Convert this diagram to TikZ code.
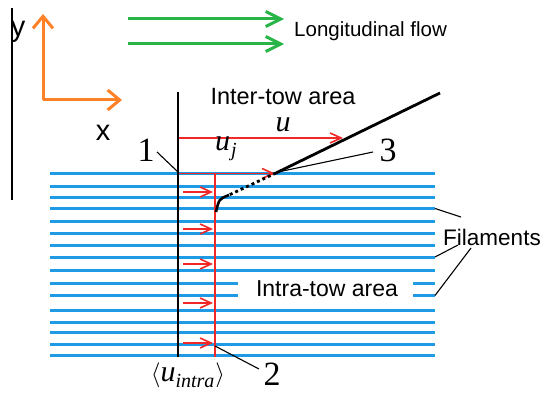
\documentclass[tikz,border=0pt]{standalone}
\usepackage{fontspec}
\setmainfont{Liberation Sans}
\newfontfamily\serifu{Liberation Serif}
\usetikzlibrary{arrows.meta}
\definecolor{fil}{RGB}{30,155,228}
\definecolor{flowred}{RGB}{240,40,40}
\definecolor{flowgreen}{RGB}{40,180,70}
\definecolor{axorange}{RGB}{255,130,40}
\tikzset{
  filament/.style={draw=fil,line width=3pt},
  redarrow/.style={draw=flowred,line width=1.6pt,-{Straight Barb[length=11pt,width=10pt,line width=1.6pt]}},
  greenarrow/.style={draw=flowgreen,line width=3pt,-{Straight Barb[length=15pt,width=15pt,line width=3pt]}},
  axisarrow/.style={draw=axorange,line width=3pt,-{Straight Barb[length=12pt,width=20pt,line width=3pt]}},
  leader/.style={draw=black,line width=1.1pt},
  lbl/.style={inner sep=0pt,anchor=center},
}
\begin{document}
\begin{tikzpicture}[x=1pt,y=-1pt]
\useasboundingbox (0,0) rectangle (543,393);
\fill[white] (0,0) rectangle (543,393);
% left thin line
\draw[line width=1.3pt] (12,8) -- (12,200);
% axes
\coordinate (o) at (43,100);
\coordinate (ytip) at (43,14);
\coordinate (xtip) at (122,100);
\draw[axisarrow] (o) -- (ytip);
\draw[axisarrow] (o) -- (xtip);
\node[lbl] (ylab) at (18,32) {\fontsize{29}{30}\selectfont y};
\node[lbl] (xlab) at (103,133) {\fontsize{29}{30}\selectfont x};
% green flow
\coordinate (g1a) at (128,19); \coordinate (g1b) at (284,19);
\coordinate (g2a) at (128,44); \coordinate (g2b) at (284,44);
\draw[greenarrow] (g1a) -- (g1b);
\draw[greenarrow] (g2a) -- (g2b);
\node[lbl,anchor=west] (lf) at (294,31) {\fontsize{20.5}{22}\selectfont Longitudinal flow};
% filaments
\foreach \y in {173.7,186,197.5,208.5,221,233,245,257,270.5,310,322,332,344,355.5}
  \draw[filament] (50,\y) -- (435,\y);
\draw[filament] (50,283) -- (238,283);
\draw[filament] (413,283) -- (435,283);
\draw[filament] (50,295.5) -- (238,295.5);
\draw[filament] (413,295.5) -- (435,295.5);
% texts
\node[lbl] (inter) at (283,97) {\fontsize{23.5}{24}\selectfont Inter-tow area};
\node[lbl] (intra) at (327,289) {\fontsize{23}{24}\selectfont Intra-tow area};
\node[lbl] (fil) at (492,237) {\fontsize{22.5}{24}\selectfont Filaments};
% black vertical
\coordinate (b1) at (178,92); \coordinate (b2) at (178,357);
\draw[line width=2.6pt] (b1) -- (b2);
% red vertical
\coordinate (r1) at (215,173); \coordinate (r2) at (215,357);
\draw[draw=flowred,line width=2.6pt] (r1) -- (r2);
% u arrow
\coordinate (ua) at (179,138); \coordinate (ub) at (343,138);
\draw[redarrow] (ua) -- (ub);
% uj arrow
\coordinate (uja) at (179,173.5); \coordinate (ujb) at (275,173.5);
\draw[redarrow] (uja) -- (ujb);
% small red arrows
\foreach \y in {192,229,264,303,343}
  \draw[redarrow] (183,\y) -- (213,\y);
% boundary line
\coordinate (p3) at (276,173);
\coordinate (ptop) at (440,93);
\coordinate (pd) at (229,195);
\coordinate (pr) at (216,212);
\draw[line width=2.8pt] (p3) -- (ptop);
\draw[line width=2.8pt,dash pattern=on 3pt off 3pt] (p3) -- (pd);
\draw[line width=2.6pt] (pd) .. controls (219,199) .. (pr);
% labels u
\node[lbl] (u) at (283,125) {\serifu\itshape\fontsize{30}{30}\selectfont u};
\node[lbl] (uj) at (226,149) {\serifu\itshape\fontsize{30}{30}\selectfont u\kern1pt\raisebox{-6pt}{\fontsize{20}{20}\selectfont j}};
\node[lbl] (uintra) at (188,375) {\fontsize{30}{30}\selectfont$\langle$\serifu\itshape u\raisebox{-6pt}{\fontsize{20}{20}\selectfont intra}\kern1pt\upshape$\rangle$};
% numbers
\node[lbl] (n1) at (146,150) {\serifu\fontsize{34}{34}\selectfont 1};
\node[lbl] (n2) at (272,374) {\serifu\fontsize{34}{34}\selectfont 2};
\node[lbl] (n3) at (388,150) {\serifu\fontsize{34}{34}\selectfont 3};
\coordinate (l1a) at (157,152); \coordinate (l1b) at (178,172);
\draw[leader] (l1a) -- (l1b);
\coordinate (l2a) at (215,346); \coordinate (l2b) at (259,369);
\draw[leader] (l2a) -- (l2b);
\coordinate (l3a) at (278,172); \coordinate (l3b) at (373,152);
\draw[leader] (l3a) -- (l3b);
% filament leaders
\coordinate (f1) at (435,208.5); \coordinate (f1e) at (461,217);
\coordinate (f2) at (435,257); \coordinate (f2e) at (458,245);
\coordinate (f3) at (435,295.5); \coordinate (f3e) at (471,248);
\draw[leader] (f1) -- (f1e);
\draw[leader] (f2) -- (f2e);
\draw[leader] (f3) -- (f3e);
\end{tikzpicture}
\end{document}
